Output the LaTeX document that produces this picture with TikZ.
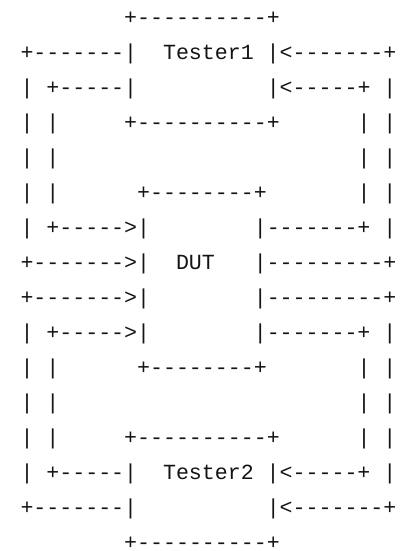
\documentclass[tikz,border=0pt]{standalone}
\usepackage{fontspec}
\setmonofont{Liberation Mono}
\begin{document}
\begin{tikzpicture}[x=1pt,y=1pt,
  asciiline/.style={anchor=base west,inner sep=0pt,outer sep=0pt,text depth=0pt,
    font=\ttfamily\fontsize{21.6}{21.6}\selectfont,text=black!92}]
\useasboundingbox (0,0) rectangle (406,551);
% column 2 left edge: 20.5; column 10 left edge: 124.2
\node[asciiline] (l1)  at (124.2,526) {\verb|+----------+|};
\node[asciiline] (l2)  at (20.5,491) {\verb/+-------|  Tester1 |<-------+/};
\node[asciiline] (l3)  at (20.5,456) {\verb/| +-----|          |<-----+ |/};
\node[asciiline] (l4)  at (20.5,421) {\verb/| |     +----------+      | |/};
\node[asciiline] (l5)  at (20.5,386) {\verb/| |                       | |/};
\node[asciiline] (l6)  at (20.5,351) {\verb/| |      +--------+       | |/};
\node[asciiline] (l7)  at (20.5,316) {\verb/| +----->|        |-------+ |/};
\node[asciiline] (l8)  at (20.5,281) {\verb/+------->|  DUT   |---------+/};
\node[asciiline] (l9)  at (20.5,246) {\verb/+------->|        |---------+/};
\node[asciiline] (l10) at (20.5,211) {\verb/| +----->|        |-------+ |/};
\node[asciiline] (l11) at (20.5,176) {\verb/| |      +--------+       | |/};
\node[asciiline] (l12) at (20.5,141) {\verb/| |                       | |/};
\node[asciiline] (l13) at (20.5,106) {\verb/| |     +----------+      | |/};
\node[asciiline] (l14) at (20.5,71)  {\verb/| +-----|  Tester2 |<-----+ |/};
\node[asciiline] (l15) at (20.5,36)  {\verb/+-------|          |<-------+/};
\node[asciiline] (l16) at (124.2,1.5) {\verb|+----------+|};
\end{tikzpicture}
\end{document}
